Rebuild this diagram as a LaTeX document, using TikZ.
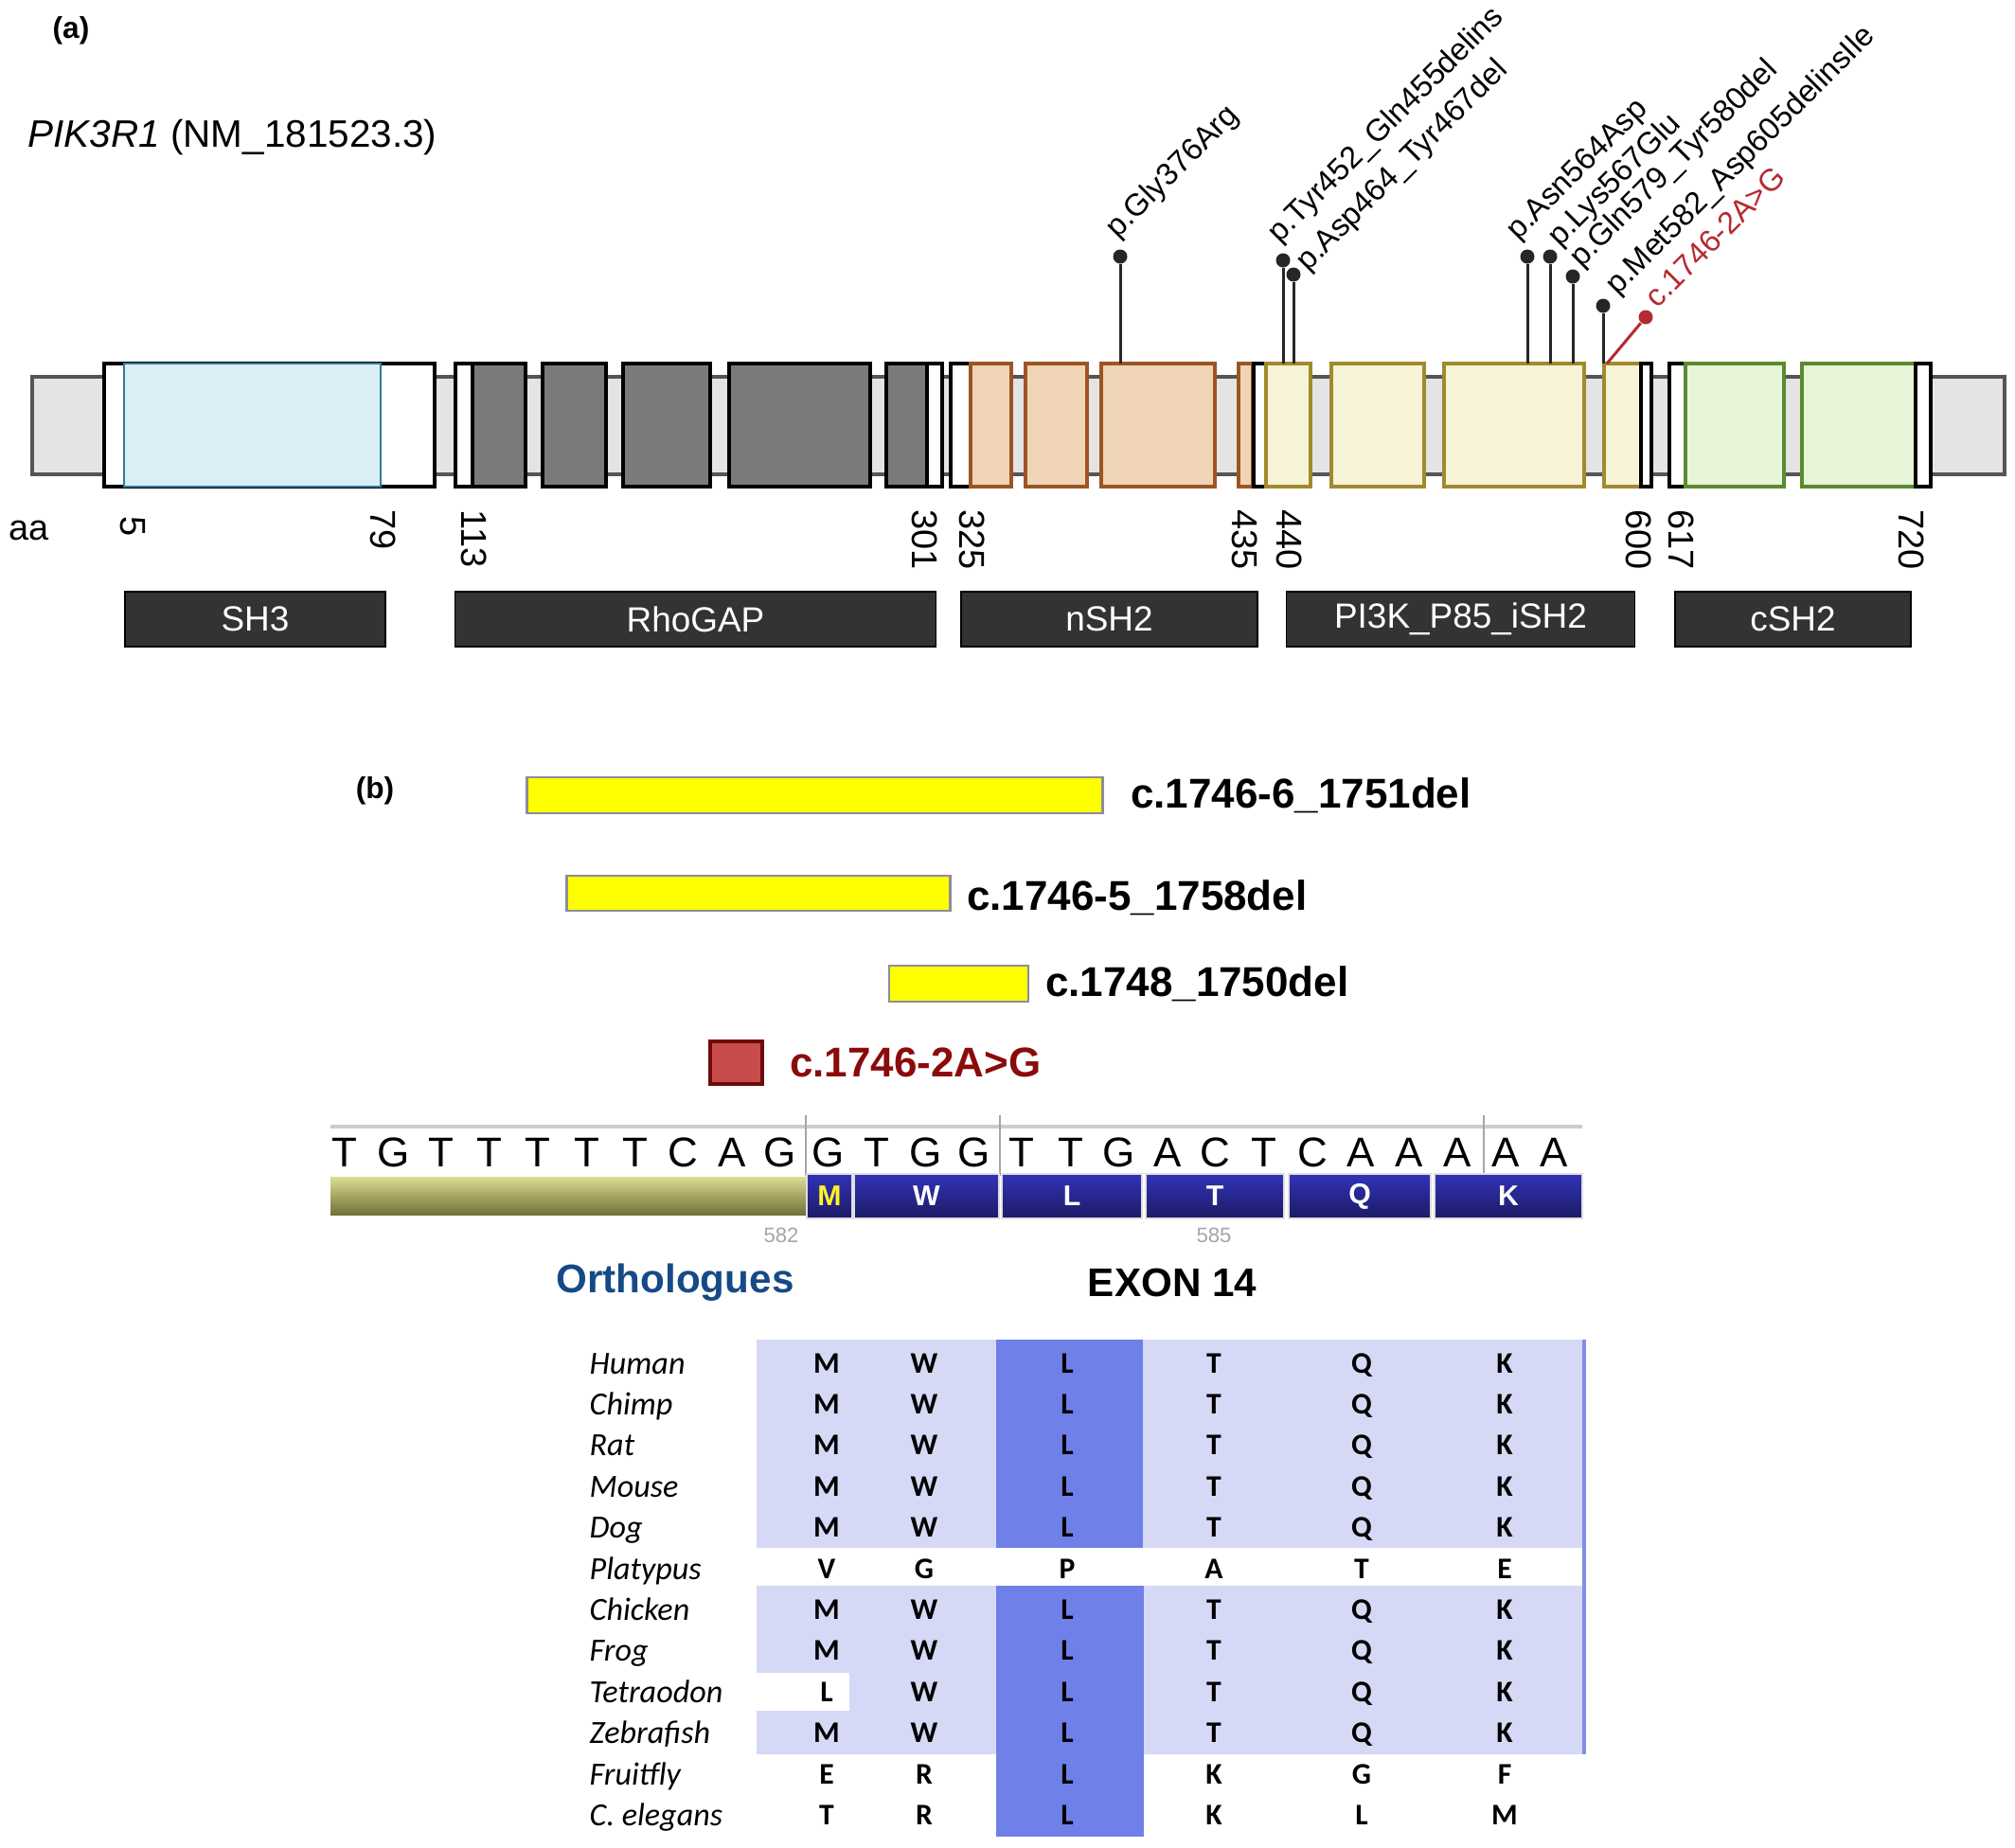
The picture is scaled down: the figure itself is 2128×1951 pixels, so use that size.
\documentclass[tikz,border=0pt]{standalone}
\usepackage{fontspec}
\setmainfont{Liberation Sans}
\newfontfamily\calibrifont{Carlito}
\usetikzlibrary{positioning, calc}

\definecolor{backfill}{HTML}{E4E4E4}
\definecolor{backline}{HTML}{555555}
\definecolor{sh3fill}{HTML}{D9EEF5}
\definecolor{sh3line}{HTML}{2F7E96}
\definecolor{gapfill}{HTML}{7A7A7A}
\definecolor{nshfill}{HTML}{EFD5B6}
\definecolor{nshline}{HTML}{9C5523}
\definecolor{ishfill}{HTML}{F6F3D7}
\definecolor{ishline}{HTML}{A08A2C}
\definecolor{cshfill}{HTML}{E6F4D7}
\definecolor{cshline}{HTML}{5B8A2E}
\definecolor{domfill}{HTML}{333333}
\definecolor{splicered}{HTML}{B52A30}
\definecolor{darkred}{HTML}{8B0A0A}
\definecolor{delyellow}{HTML}{FFFF00}
\definecolor{delline}{HTML}{8C8C9C}
\definecolor{sqfill}{HTML}{C94C4C}
\definecolor{sqline}{HTML}{6E0A0A}
\definecolor{seqolive}{HTML}{CDCD62}
\definecolor{seqblue}{HTML}{3232B8}
\definecolor{orthblue}{HTML}{164A86}
\definecolor{alnlight}{HTML}{D5D9F5}
\definecolor{alndark}{HTML}{6F80E8}
\definecolor{alnedge}{HTML}{7F8FE6}

\newcommand{\exon}[3]{\draw[#1] (#2,384) rectangle (#3,514);}

\begin{document}
\begin{tikzpicture}[
        x=0.01cm, y=-0.01cm,
        backbone/.style={draw=backline, fill=backfill, line width=0.9pt},
        whitebox/.style={draw=black, fill=white, line width=0.9pt},
        sh3box/.style={draw=sh3line, fill=sh3fill, line width=0.6pt},
        gapbox/.style={draw=black, fill=gapfill, line width=0.9pt},
        nshbox/.style={draw=nshline, fill=nshfill, line width=0.9pt},
        ishbox/.style={draw=ishline, fill=ishfill, line width=0.9pt},
        cshbox/.style={draw=cshline, fill=cshfill, line width=0.9pt},
        domainbox/.style={
            rectangle,
            draw=black,
            fill=domfill,
            text=white,
            minimum height=0.58cm,
            inner sep=0pt,
            font=\fontsize{10.5}{12}\selectfont
        },
        posnum/.style={rotate=-90, anchor=west, inner sep=0pt, font=\fontsize{10.8}{12}\selectfont},
        pinhead/.style={circle, fill=black!85, minimum size=0.15cm, inner sep=0pt},
        pinstem/.style={line width=0.85pt, black!85},
        mutation/.style={rotate=45, anchor=base west, inner sep=0pt, font=\fontsize{9.3}{11}\selectfont},
        panel/.style={inner sep=0pt, font=\bfseries\fontsize{9}{10}\selectfont},
        delbar/.style={rectangle, draw=delline, fill=delyellow, line width=0.8pt, inner sep=0pt},
        dellabel/.style={inner sep=0pt, font=\bfseries\fontsize{12.5}{14}\selectfont},
        ntletter/.style={anchor=base, inner sep=0pt, font=\fontsize{12.5}{14}\selectfont},
        aabox/.style={
            rectangle,
            top color=seqblue,
            bottom color=seqblue!55!black,
            draw=white!75!gray,
            line width=0.4pt,
            text=white,
            minimum height=0.47cm,
            inner sep=0pt,
            font=\bfseries\fontsize{8.6}{9}\selectfont
        },
        species/.style={anchor=base west, inner sep=0pt, font=\calibrifont\itshape\fontsize{9.7}{11}\selectfont},
        residue/.style={anchor=base, inner sep=0pt, font=\calibrifont\bfseries\fontsize{9}{10}\selectfont}
    ]

    \useasboundingbox (0,0) rectangle (2128,1951);

    % (a) protein
    \node[panel] (panela) at (75,32) {(a)};

    \node[anchor=base west, inner sep=0pt, font=\fontsize{11.5}{14}\selectfont] (gene) at (29,155) {\textit{PIK3R1} (NM\_181523.3)};

    \draw[backbone] (34,398) rectangle (2117,501);

    \exon{whitebox}{110}{459}
    \exon{sh3box}{131}{402}

    \exon{whitebox}{481}{499}
    \exon{gapbox}{499}{555}
    \exon{gapbox}{573}{640}
    \exon{gapbox}{658}{750}
    \exon{gapbox}{770}{919}
    \exon{gapbox}{936}{979}
    \exon{whitebox}{979}{995}

    \exon{whitebox}{1004}{1025}
    \exon{nshbox}{1025}{1068}
    \exon{nshbox}{1083}{1148}
    \exon{nshbox}{1163}{1283}
    \exon{nshbox}{1308}{1323}

    \exon{whitebox, line width=1.4pt}{1324}{1337}
    \exon{ishbox}{1337}{1384}
    \exon{ishbox}{1406}{1504}
    \exon{ishbox}{1525}{1673}
    \exon{ishbox}{1694}{1733}
    \exon{whitebox, line width=1.4pt}{1733}{1744}

    \exon{whitebox}{1763}{1780}
    \exon{cshbox}{1780}{1884}
    \exon{cshbox}{1903}{2023}
    \exon{whitebox}{2023}{2039}

    \node[inner sep=0pt, font=\fontsize{10.8}{12}\selectfont] (aa) at (31,560) {aa};

    \node[posnum] (p5) at (140,545) {5};
    \node[posnum] (p79) at (405,538) {79};
    \node[posnum] (p113) at (501,538) {113};
    \node[posnum] (p301) at (977,538) {301};
    \node[posnum] (p325) at (1027,538) {325};
    \node[posnum] (p435) at (1315,538) {435};
    \node[posnum] (p440) at (1362,538) {440};
    \node[posnum] (p600) at (1731,538) {600};
    \node[posnum] (p617) at (1776,538) {617};
    \node[posnum] (p720) at (2019,538) {720};

    \node[domainbox, minimum width=2.75cm] (sh3) at (269.5,654) {SH3};
    \node[domainbox, minimum width=5.08cm] (rhogap) at (734.5,654) {RhoGAP};
    \node[domainbox, minimum width=3.13cm] (nsh2) at (1171.5,654) {nSH2};
    \node[domainbox, minimum width=3.68cm] (ish2) at (1542.5,654) {PI3K\_P85\_iSH2};
    \node[domainbox, minimum width=2.49cm] (csh2) at (1893.5,654) {cSH2};

    % variants
    \node[pinhead] (gly376) at (1183,271) {};
    \node[pinhead] (tyr452) at (1355,275) {};
    \node[pinhead] (asp464) at (1366,290) {};
    \node[pinhead] (asn564) at (1613,271) {};
    \node[pinhead] (lys567) at (1637,271) {};
    \node[pinhead] (gln579) at (1661,292) {};
    \node[pinhead] (met582) at (1693,323) {};
    \node[pinhead, fill=splicered] (splice) at (1738,335) {};

    \coordinate (gly376foot) at (1183,384);
    \coordinate (tyr452foot) at (1355,384);
    \coordinate (asp464foot) at (1366,384);
    \coordinate (asn564foot) at (1613,384);
    \coordinate (lys567foot) at (1637,384);
    \coordinate (gln579foot) at (1661,384);
    \coordinate (met582foot) at (1693,384);
    \coordinate (splicefoot) at (1697,384);

    \draw[pinstem] (gly376) -- (gly376foot);
    \draw[pinstem] (tyr452) -- (tyr452foot);
    \draw[pinstem] (asp464) -- (asp464foot);
    \draw[pinstem] (asn564) -- (asn564foot);
    \draw[pinstem] (lys567) -- (lys567foot);
    \draw[pinstem] (gln579) -- (gln579foot);
    \draw[pinstem] (met582) -- (met582foot);
    \draw[pinstem, splicered] (splice) -- (splicefoot);

    \node[mutation] (gly376lab) at ($(gly376)+(-3,-18)$) {p.Gly376Arg};
    \node[mutation] (tyr452lab) at ($(tyr452)+(-4,-17)$) {p.Tyr452\_Gln455delins};
    \node[mutation] (asp464lab) at ($(asp464)+(15,-2)$) {p.Asp464\_Tyr467del};
    \node[mutation] (asn564lab) at ($(asn564)+(-10,-16)$) {p.Asn564Asp};
    \node[mutation] (lys567lab) at ($(lys567)+(10,-9)$) {p.Lys567Glu};
    \node[mutation] (gln579lab) at ($(gln579)+(9,-8)$) {p.Gln579\_Tyr580del};
    \node[mutation] (met582lab) at ($(met582)+(15,-10)$) {p.Met582\_Asp605delinsIle};
    \node[mutation, text=splicered] (splicelab) at ($(splice)+(12,-8)$) {c.1746-2A>G};

    % (b) deletions
    \node[panel] (panelb) at (396,835) {(b)};

    \node[delbar, minimum width=6.07cm, minimum height=0.38cm] (del1) at (860.5,840) {};
    \node[dellabel, right=0.28cm of del1] (del1lab) {c.1746-6\_1751del};

    \node[delbar, minimum width=4.04cm, minimum height=0.37cm] (del2) at (801,943.5) {};
    \node[dellabel, right=0.16cm of del2, yshift=-0.05cm] (del2lab) {c.1746-5\_1758del};

    \node[delbar, minimum width=1.47cm, minimum height=0.38cm] (del3) at (1012.5,1039) {};
    \node[dellabel, right=0.16cm of del3] (del3lab) {c.1748\_1750del};

    \node[rectangle, draw=sqline, fill=sqfill, line width=0.9pt, inner sep=0pt, minimum width=0.55cm, minimum height=0.45cm] (splicebox) at (777.5,1122.5) {};
    \node[dellabel, text=darkred, right=0.27cm of splicebox] (splicebxlab) {c.1746-2A>G};

    % sequence
    \draw[line width=1.1pt, gray!40] (349,1190) -- (1671,1190);
    \foreach \sx in {851,1056,1567}
        \draw[line width=0.4pt, gray!70] (\sx,1178) -- (\sx,1242);

    \foreach \b [count=\i] in {T,G,T,T,T,T,T,C,A,G,G,T,G,G,T,T,G,A,C,T,C,A,A,A,A,A}
        \node[ntletter] (nt\i) at ({364+51.1*(\i-1)},1232) {\b};

    \shade[top color=seqolive!70!white, middle color=seqolive, bottom color=seqolive!55!black] (349,1243) rectangle (851,1283);

    \node[aabox, minimum width=0.48cm, text=yellow!85!white] (codonM) at (876,1263.5) {M};
    \node[aabox, minimum width=1.53cm] (codonW) at (978.5,1263.5) {W};
    \node[aabox, minimum width=1.48cm] (codonL) at (1132,1263.5) {L};
    \node[aabox, minimum width=1.46cm] (codonT) at (1283,1263.5) {T};
    \node[aabox, minimum width=1.50cm] (codonQ) at (1436,1263.5) {Q};
    \node[aabox, minimum width=1.56cm] (codonK) at (1593,1263.5) {K};

    \node[inner sep=0pt, text=gray!70, font=\fontsize{6.3}{7}\selectfont] (n582) at (825,1305) {582};
    \node[inner sep=0pt, text=gray!70, font=\fontsize{6.3}{7}\selectfont] (n585) at (1282,1305) {585};

    \node[inner sep=0pt, text=orthblue, font=\bfseries\fontsize{12}{14}\selectfont] (ortho) at (713,1355) {Orthologues};
    \node[inner sep=0pt, font=\bfseries\fontsize{12}{14}\selectfont] (exon14) at (1238,1355) {EXON 14};

    % alignment
    \fill[alnlight] (799,1415) rectangle (1673,1635);
    \fill[alnlight] (799,1675) rectangle (1673,1853);
    \fill[white] (799,1767) rectangle (897,1807);
    \fill[alndark] (1052,1415) rectangle (1207,1635);
    \fill[alndark] (1052,1675) rectangle (1208,1940);
    \draw[alnedge, line width=0.9pt] (1673,1415) -- (1673,1853);

    \foreach \sp/\res [count=\r from 0] in {Human/{M,W,L,T,Q,K}, Chimp/{M,W,L,T,Q,K},
        Rat/{M,W,L,T,Q,K}, Mouse/{M,W,L,T,Q,K}, Dog/{M,W,L,T,Q,K}, Platypus/{V,G,P,A,T,E},
        Chicken/{M,W,L,T,Q,K}, Frog/{M,W,L,T,Q,K}, Tetraodon/{L,W,L,T,Q,K},
        Zebrafish/{M,W,L,T,Q,K}, Fruitfly/{E,R,L,K,G,F}, C. elegans/{T,R,L,K,L,M}}{
        \node[species] (sp\r) at (622,{1451+43.4*\r}) {\sp};
        \foreach \a [count=\c from 0] in \res {
            \pgfmathsetmacro{\cx}{{873,976,1127,1282,1438,1589}[\c]}
            \node[residue] (aa\r-\c) at (\cx,{1450+43.4*\r}) {\a};
        }
    }

\end{tikzpicture}
\end{document}
